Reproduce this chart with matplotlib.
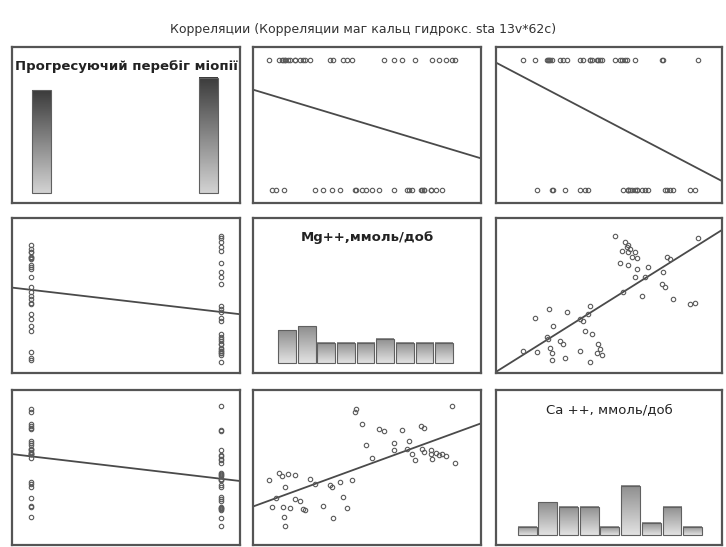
import numpy as np
import matplotlib.pyplot as plt
from matplotlib.patches import Rectangle
from matplotlib.colors import LinearSegmentedColormap

# cases: progression flag (0/1), Mg++ and Ca++ daily excretion, mmol/day
progression = [1, 1, 0, 1, 0, 1, 0, 0, 0, 0,
               1, 0, 0, 0, 1, 0, 1, 0, 0, 1,
               0, 0, 1, 0, 0, 0, 0, 1, 1, 1,
               0, 0, 1, 0, 1, 0, 1, 1, 1, 1,
               1, 0, 1, 1, 1, 1, 1, 1, 0, 0,
               1, 1, 1]
mg = [5.43, 5.23, 5.14, 5.07, 5.01, 4.93, 4.91, 4.91, 4.74, 4.71,
      4.56, 4.49, 4.37, 4.42, 4.09, 4.09, 4.26, 4.69, 4.74, 5.36,
      3.61, 3.47, 3.88, 3.77, 3.39, 3.23, 3.26, 3.07, 2.98, 3.17,
      2.90, 2.74, 2.76, 2.53, 2.69, 2.36, 2.26, 2.09, 2.04, 1.93,
      1.71, 1.68, 1.82, 1.66, 1.71, 1.93, 1.77, 1.64, 1.42, 1.50,
      1.34, 1.57, 2.15]
ca = [5.21, 5.57, 5.68, 5.63, 5.74, 5.45, 5.68, 5.92, 5.80, 5.98,
      5.39, 5.68, 5.98, 6.39, 5.92, 6.27, 6.92, 7.16, 7.04, 8.16,
      5.51, 6.16, 6.86, 6.98, 7.25, 7.87, 8.04, 2.89, 3.50, 4.33,
      4.27, 3.97, 2.38, 3.03, 4.09, 4.15, 4.39, 2.85, 3.27, 3.38,
      1.97, 2.44, 2.91, 2.97, 3.97, 4.62, 4.68, 4.56, 2.97, 3.44,
      4.33, 4.74, 2.79]

# histogram counts for the two continuous variables
mg_hist_counts = [8, 9, 5, 5, 5, 6, 5, 5, 5]
ca_hist_counts = [2, 8, 7, 7, 2, 12, 3, 7, 2]

var_titles = ["Прогресуючий перебіг міопії", "Mg++,ммоль/доб", "Ca ++, ммоль/доб"]
title_bold = [True, True, False]
main_title = "Корреляции (Корреляции маг кальц гидрокс. sta 13v*62c)"

data = [np.array(progression, float), np.array(mg), np.array(ca)]
lims = [(-0.1, 1.1), (1.0, 6.0), (1.0, 9.0)]

W, H = 726, 547
col_x = [(12, 240), (253, 481), (496, 722)]
row_y = [(47, 203), (218, 373), (390, 545)]
HIST_YLIM = (-2.4, 35.5)
EDGE = "#555555"

grad_dark = LinearSegmentedColormap.from_list("gd", ["#d2d2d2", "#3c3c3c"])
grad_light = LinearSegmentedColormap.from_list("gl", ["#e2e2e2", "#8e8e8e"])


def grad_bars(ax, lefts, heights, width, cmap):
    g = np.linspace(0, 1, 64).reshape(-1, 1)
    for x0, h in zip(lefts, heights):
        ax.imshow(g, extent=[x0, x0 + width, 0, h], origin="lower",
                  cmap=cmap, aspect="auto", zorder=2, interpolation="bilinear")
        ax.add_patch(Rectangle((x0, 0), width, h, fill=False,
                               edgecolor="#606060", lw=0.8, zorder=3))


fig = plt.figure(figsize=(W / 100, H / 100), dpi=100)
fig.text(0.5, 1 - 30 / H, main_title, ha="center", va="center",
         fontsize=9, color="#333333")

for i in range(3):
    for j in range(3):
        x0, x1 = col_x[j]
        y0, y1 = row_y[i]
        ax = fig.add_axes([x0 / W, 1 - y1 / H, (x1 - x0) / W, (y1 - y0) / H])
        ax.set_xticks([])
        ax.set_yticks([])
        for sp in ax.spines.values():
            sp.set_color(EDGE)
            sp.set_linewidth(1.6)

        if i == j:
            if i == 0:
                counts = np.bincount(progression, minlength=2)
                grad_bars(ax, [-0.057, 0.943], counts, 0.114, grad_dark)
                ax.set_xlim(-0.18, 1.19)
            elif i == 1:
                lefts = 1.53 + 0.431 * np.arange(len(mg_hist_counts))
                grad_bars(ax, lefts + 0.02, mg_hist_counts, 0.39, grad_light)
                ax.set_xlim(*lims[1])
            else:
                lefts = 1.74 + 0.732 * np.arange(len(ca_hist_counts))
                grad_bars(ax, lefts + 0.03, ca_hist_counts, 0.67, grad_light)
                ax.set_xlim(*lims[2])
            ax.set_ylim(*HIST_YLIM)
            ax.text(0.5, 0.875, var_titles[i], transform=ax.transAxes,
                    ha="center", va="center", fontsize=9.5,
                    fontweight="bold" if title_bold[i] else "normal",
                    color="#222222")
        else:
            x, y = data[j], data[i]
            ax.plot(x, y, "o", ms=3.2, mfc="none", mec="#5a5a5a", mew=0.8,
                    zorder=3)
            k, b = np.polyfit(x, y, 1)
            xs = np.array(lims[j])
            ax.plot(xs, k * xs + b, color="#4a4a4a", lw=1.3, zorder=2)
            ax.set_xlim(*lims[j])
            ax.set_ylim(*lims[i])

fig.savefig("out.png", dpi=100)
